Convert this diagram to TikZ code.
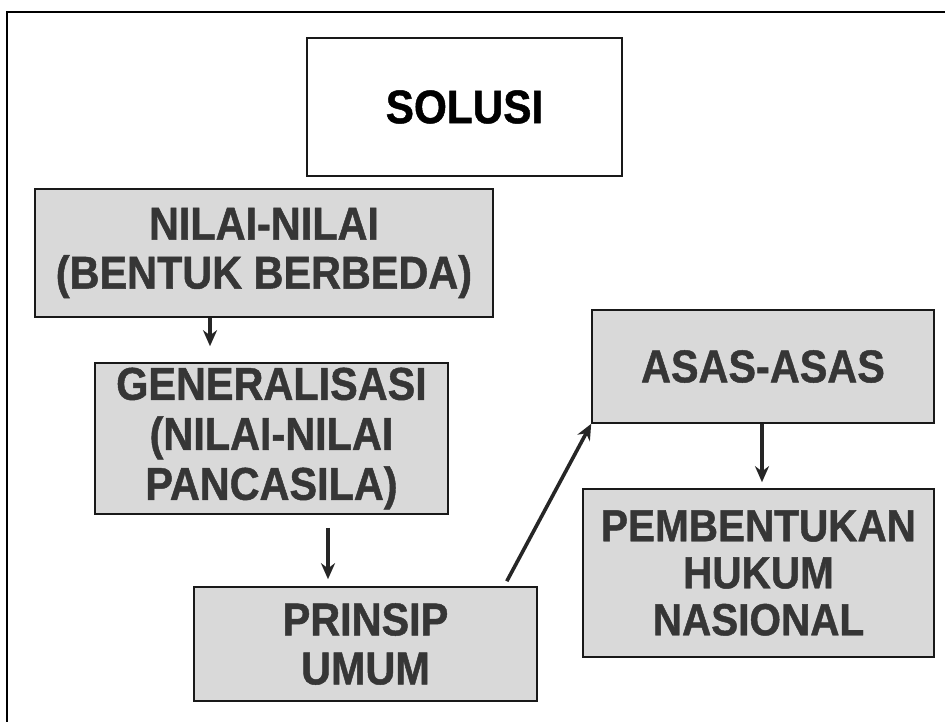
\documentclass[tikz,border=0pt]{standalone}
\usepackage{fontspec}
\setmainfont{Liberation Sans}
\newfontfamily\condfont[FakeStretch=0.9,BoldFeatures={FakeBold=1}]{Liberation Sans}
\usetikzlibrary{arrows.meta}
\definecolor{boxfill}{HTML}{D9D9D9}
\definecolor{boxtext}{HTML}{363636}
\begin{document}
\begin{tikzpicture}[x=1pt,y=-1pt,
  framebox/.style={draw=black!90,line width=1.6pt,rectangle,inner sep=0pt,align=center,
    font=\condfont\bfseries\fontsize{46}{49}\selectfont},
  shadedbox/.style={framebox,fill=boxfill,text=boxtext},
  arr/.style={draw=black!85,line width=3.6pt,-{Stealth[length=16pt,width=14pt]}}]
\useasboundingbox (0,0) rectangle (945,722);
\fill[white] (0,0) rectangle (945,722);
% outer frame
\coordinate (fbl) at (7,722);
\coordinate (ftl) at (7,12);
\coordinate (ftr) at (945,12);
\draw[line width=2.6pt] (fbl) -- (ftl) -- (ftr);
% boxes
\node[framebox,text=black,minimum width=315pt,minimum height=138pt,font=\condfont\bfseries\fontsize{47}{50}\selectfont] (sol) at (464.5,107) {SOLUSI};
\node[shadedbox,minimum width=458pt,minimum height=128pt] (nil) at (264,253) {NILAI-NILAI\\(BENTUK BERBEDA)};
\node[shadedbox,minimum width=353pt,minimum height=151pt,font=\condfont\bfseries\fontsize{46}{50}\selectfont] (gen) at (271.5,438.5) {GENERALISASI\\(NILAI-NILAI\\PANCASILA)};
\node[shadedbox,minimum width=343pt,minimum height=114pt] (pri) at (365.5,644) {PRINSIP\\UMUM};
\node[shadedbox,minimum width=342pt,minimum height=113pt] (asa) at (763,366.5) {ASAS-ASAS};
\node[shadedbox,minimum width=351pt,minimum height=168pt,font=\condfont\bfseries\fontsize{45}{47}\selectfont] (pem) at (758.5,573) {PEMBENTUKAN\\HUKUM\\NASIONAL};
% connectors
\draw[arr,shorten >=16pt] ([xshift=-54pt]nil.south) -- ([xshift=-54pt]nil.south |- gen.north);
\draw[arr,shorten <=13pt,shorten >=7pt] ([xshift=56.5pt]gen.south) -- ([xshift=56.5pt]gen.south |- pri.north);
\draw[arr] ([xshift=-31pt,yshift=5pt]pri.north east) -- (asa.south west);
\draw[arr,shorten >=6pt] ([xshift=-1pt]asa.south) -- ([xshift=-1pt]asa.south |- pem.north);
\end{tikzpicture}
\end{document}
